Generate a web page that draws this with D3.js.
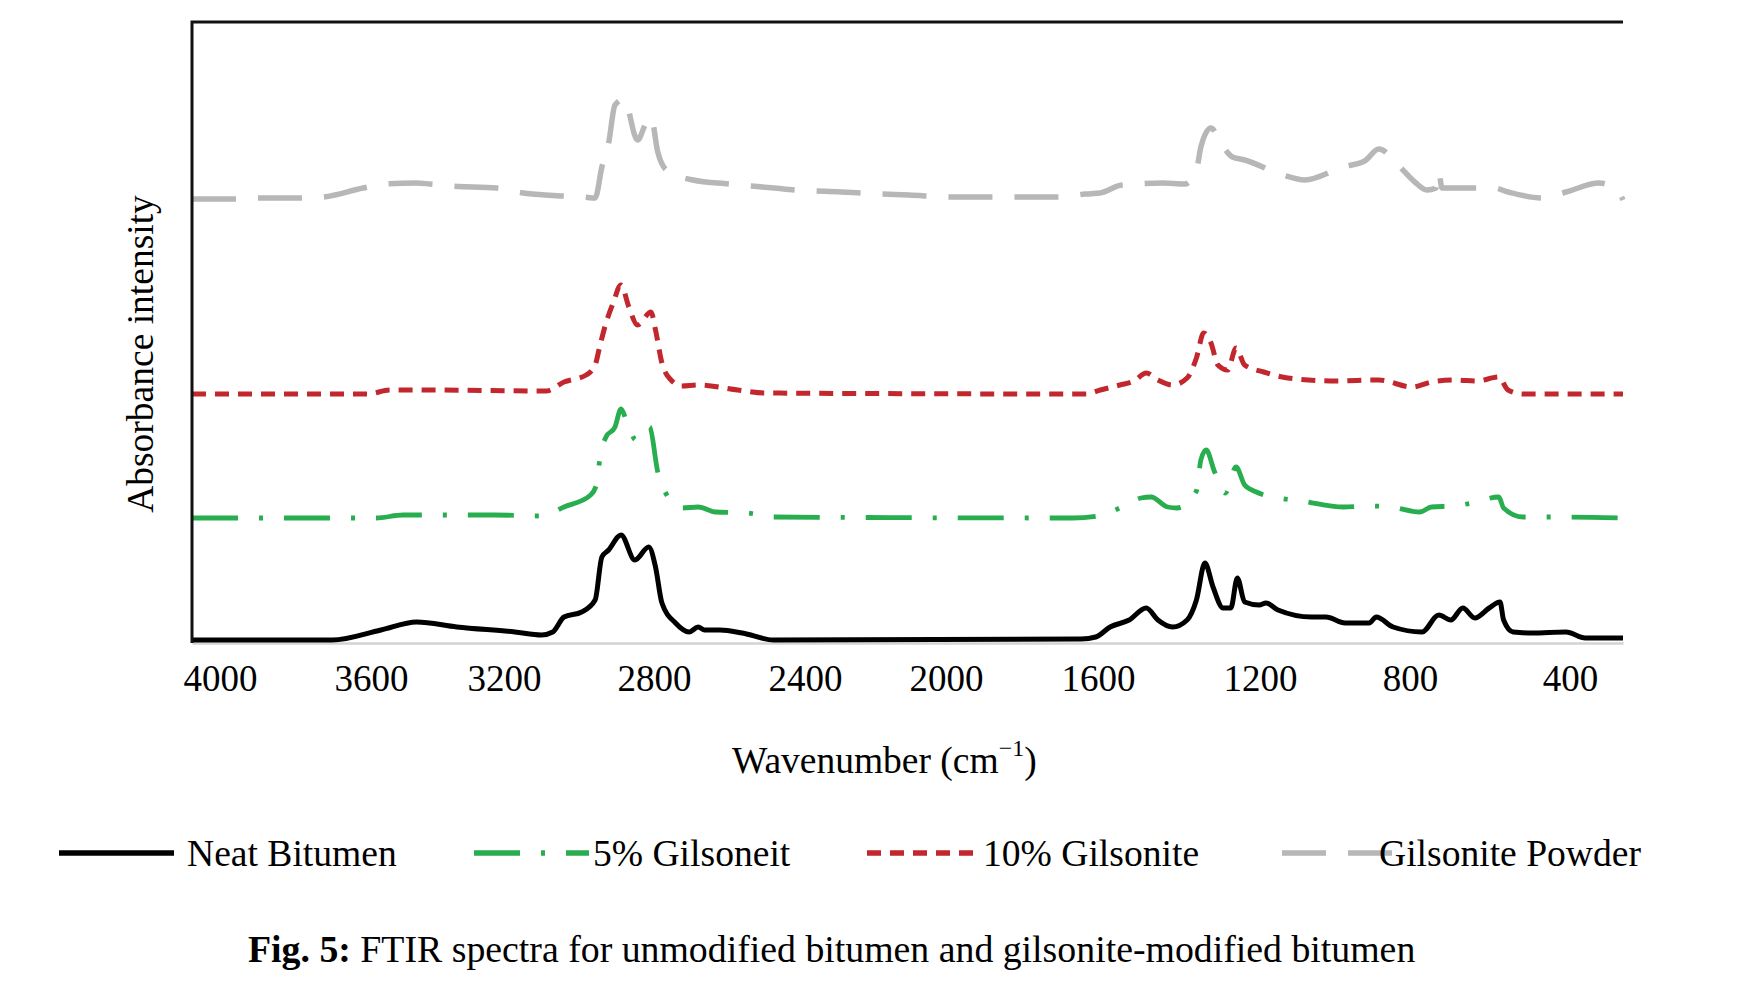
<!DOCTYPE html>
<html><head><meta charset="utf-8">
<script src="https://cdn.jsdelivr.net/npm/d3@7"></script>
<style>
body{margin:0;background:#fff;}
svg text{font-family:"Liberation Serif","Times New Roman",serif;fill:#000;}
</style>
</head><body><svg id="chart" width="1748" height="984"></svg>
<script>
// ---------- data ----------
const tickLabels = [4000, 3600, 3200, 2800, 2400, 2000, 1600, 1200, 800, 400];
const wavenumberRange = [4074, 268];
const seriesNames = ["Neat Bitumen", "5% Gilsoneit", "10% Gilsonite", "Gilsonite Powder"];

// [wavenumber cm-1, absorbance (a.u., stacked as plotted)]
const neatBitumen = [[4074,0.03],[3703,0.03],[3570,0.13],[3463,0.21],[3342,0.16],[3171,0.11],[3100,0.08],[3070,0.11],[3040,0.26],[2993,0.31],[2957,0.43],[2939,0.86],[2921,0.93],[2888,1.08],[2851,0.83],[2814,0.96],[2796,0.76],[2779,0.40],[2743,0.20],[2707,0.11],[2683,0.16],[2666,0.13],[2625,0.13],[2566,0.10],[2483,0.03],[1644,0.04],[1606,0.06],[1570,0.16],[1523,0.23],[1481,0.35],[1452,0.23],[1416,0.16],[1380,0.23],[1357,0.43],[1336,0.80],[1316,0.56],[1291,0.35],[1272,0.35],[1256,0.65],[1238,0.41],[1202,0.38],[1184,0.40],[1152,0.33],[1062,0.26],[1024,0.26],[973,0.20],[909,0.20],[890,0.26],[845,0.16],[770,0.11],[728,0.28],[698,0.23],[668,0.35],[638,0.25],[602,0.35],[575,0.41],[566,0.23],[542,0.11],[495,0.10],[410,0.11],[362,0.05],[268,0.05]];

const gilsonite5 = [[4074,1.25],[3585,1.25],[3504,1.28],[3230,1.28],[3100,1.27],[3040,1.36],[2969,1.48],[2952,1.60],[2945,1.83],[2928,2.06],[2904,2.16],[2888,2.34],[2874,2.23],[2848,2.03],[2812,2.16],[2790,1.71],[2769,1.50],[2726,1.35],[2683,1.36],[2637,1.31],[2554,1.30],[2483,1.26],[1668,1.25],[1600,1.27],[1546,1.35],[1494,1.45],[1469,1.46],[1428,1.36],[1405,1.35],[1357,1.52],[1346,1.83],[1333,1.93],[1312,1.71],[1286,1.50],[1259,1.76],[1238,1.58],[1209,1.51],[1152,1.45],[1088,1.42],[979,1.36],[909,1.37],[851,1.36],[776,1.31],[746,1.36],[692,1.37],[645,1.40],[578,1.46],[566,1.35],[518,1.26],[425,1.26],[268,1.25]];

const gilsonite10 = [[4074,2.49],[3609,2.49],[3543,2.53],[3450,2.53],[3088,2.52],[3040,2.61],[2981,2.68],[2957,2.78],[2945,2.96],[2928,3.20],[2909,3.40],[2888,3.58],[2867,3.36],[2844,3.18],[2808,3.31],[2796,3.13],[2779,2.80],[2755,2.63],[2726,2.57],[2683,2.58],[2578,2.53],[2506,2.50],[1632,2.49],[1594,2.53],[1546,2.58],[1511,2.62],[1481,2.70],[1452,2.63],[1416,2.58],[1380,2.65],[1357,2.85],[1339,3.10],[1321,3.00],[1304,2.78],[1280,2.73],[1259,2.95],[1238,2.78],[1190,2.71],[1126,2.65],[998,2.62],[883,2.63],[795,2.56],[746,2.61],[686,2.63],[633,2.62],[578,2.66],[555,2.53],[518,2.49],[268,2.49]];

const gilsonitePowder = [[4074,4.44],[3964,4.44],[3905,4.45],[3787,4.45],[3727,4.46],[3621,4.55],[3558,4.59],[3463,4.60],[3423,4.59],[3357,4.57],[3222,4.55],[3165,4.51],[3045,4.47],[2987,4.46],[2957,4.45],[2939,4.76],[2921,5.00],[2904,5.38],[2880,5.44],[2844,5.03],[2820,5.21],[2808,5.26],[2790,4.91],[2767,4.73],[2697,4.63],[2601,4.59],[2482,4.55],[2424,4.53],[2298,4.51],[2187,4.49],[2105,4.48],[1989,4.46],[1858,4.46],[1758,4.46],[1695,4.46],[1634,4.49],[1595,4.50],[1541,4.58],[1440,4.60],[1386,4.59],[1357,4.73],[1346,4.96],[1321,5.15],[1297,5.00],[1268,4.86],[1238,4.83],[1139,4.68],[1081,4.63],[979,4.76],[921,4.82],[883,4.94],[832,4.78],[788,4.61],[758,4.53],[735,4.55],[728,4.71],[720,4.55],[686,4.55],[590,4.55],[555,4.51],[470,4.45],[410,4.51],[328,4.60],[279,4.51],[268,4.43]];

// ---------- layout ----------
const W = 1748, H = 984;
const plot = {left:192, right:1623, top:22, bottom:643};
const tickPixels = [220, 371, 504, 654, 805, 946, 1098, 1260, 1410, 1570]; // irregular label placement of the original
const svg = d3.select("#chart");
svg.append("rect").attr("width", W).attr("height", H).attr("fill", "#fff");

const x = d3.scaleLinear()
  .domain([wavenumberRange[0], ...tickLabels, wavenumberRange[1]])
  .range([plot.left, ...tickPixels, plot.right]);
const y = d3.scaleLinear().domain([0, 6.21]).range([plot.bottom, plot.top]);

const FONT = '"Liberation Serif","Times New Roman",serif';

// bottom axis
const gx = svg.append("g")
  .attr("transform", `translate(0,${plot.bottom})`)
  .call(d3.axisBottom(x).tickValues(tickLabels).tickSize(0).tickSizeOuter(0).tickFormat(d3.format("d")));
gx.attr("font-family", FONT).attr("font-size", 37);
gx.select(".domain").attr("stroke", "#d3d3d3").attr("stroke-width", 2.5);
gx.selectAll(".tick text").attr("y", 48).attr("dy", null).style("font-size", "37px");

// series
const series = [
  {data: gilsonitePowder, color: "#b7b7b7", width: 5.5, dash: "44,22"},
  {data: gilsonite10, color: "#c1272d", width: 5, dash: "14,9"},
  {data: gilsonite5, color: "#28ad4f", width: 4.8, dash: "46,21,4,21"},
  {data: neatBitumen, color: "#000000", width: 5, dash: null}
];
const line = d3.line().x(d => x(d[0])).y(d => y(d[1])).curve(d3.curveMonotoneX);
svg.append("g").selectAll("path").data(series).join("path")
  .attr("d", s => line(s.data))
  .attr("fill", "none")
  .attr("stroke", s => s.color)
  .attr("stroke-width", s => s.width)
  .attr("stroke-dasharray", s => s.dash)
  .attr("stroke-linejoin", "round");

// frame (left + top)
svg.append("path")
  .attr("d", `M${x.range()[0]},${y.range()[0]}V${y.range()[1]}H${x.range()[x.range().length-1]}`)
  .attr("fill", "none").attr("stroke", "#111").attr("stroke-width", 3);

// axis titles
const xt = svg.append("text").attr("x", 732).attr("y", 773).style("font-size", "37.5px");
xt.append("tspan").text("Wavenumber (cm");
xt.append("tspan").text("\u22121").style("font-size", "24px").attr("dy", -17);
xt.append("tspan").text(")").attr("dy", 17);

svg.append("text")
  .attr("transform", "translate(153,354) rotate(-90)")
  .attr("text-anchor", "middle").style("font-size", "37.5px")
  .text("Absorbance intensity");

// legend
const legendOrder = [3, 2, 1, 0]; // neat, 5%, 10%, powder
const legendSampleX = [59, 474, 867, 1282];
const legendTextX = [187, 593, 983, 1379];
const lg = svg.append("g");
legendOrder.forEach((si, i) => {
  const s = series[si];
  lg.append("line")
    .attr("x1", legendSampleX[i]).attr("x2", legendSampleX[i] + 115)
    .attr("y1", 853).attr("y2", 853)
    .attr("stroke", s.color).attr("stroke-width", si === 3 ? 5.5 : 5.5)
    .attr("stroke-dasharray", s.dash);
  lg.append("text").attr("x", legendTextX[i]).attr("y", 866)
    .style("font-size", "37.6px").text(seriesNames[i]);
});

// caption
const cap = svg.append("text").attr("x", 248).attr("y", 962).style("font-size", "37.8px");
cap.append("tspan").attr("font-weight", "bold").style("font-weight", "bold").text("Fig. 5:");
cap.append("tspan").text(" FTIR spectra for unmodified bitumen and gilsonite-modified bitumen");
</script>
</body></html>
